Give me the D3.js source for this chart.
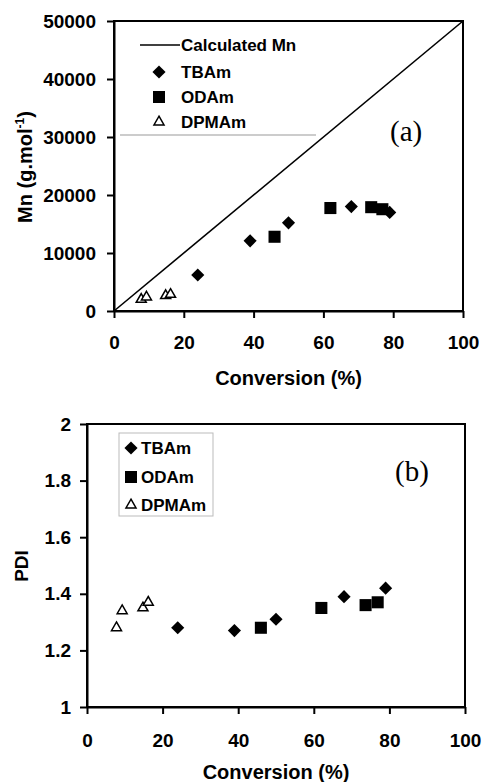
<!DOCTYPE html>
<html>
<head>
<meta charset="utf-8">
<script src="https://cdn.jsdelivr.net/npm/d3@7"></script>
<style>
  body { margin: 0; background: #fff; }
  svg { display: block; }
  text { font-family: "Liberation Sans", Arial, sans-serif; font-weight: bold; fill: #000; }
  text.panel-tag { font-family: "Liberation Serif", "Times New Roman", serif; font-weight: normal; }
</style>
</head>
<body>
<div id="chart"></div>
<script>
// conversion (%) and values
const tbamConv = [24, 39, 50, 68, 79];
const tbamMn = [6200, 12100, 15200, 18000, 17000];
const tbamPdi = [1.28, 1.27, 1.31, 1.39, 1.42];

const odamConv = [46, 62, 73.7, 76.9];
const odamMn = [12800, 17750, 17900, 17550];
const odamPdi = [1.28, 1.35, 1.36, 1.37];

const dpmamConv = [7.8, 9.3, 14.8, 16.2];
const dpmamMn = [2000, 2400, 2650, 2850];
const dpmamPdi = [1.28, 1.34, 1.35, 1.37];

const calcConv = [0, 100];
const calcMn = [0, 50000];

const xTicks = [0, 20, 40, 60, 80, 100];
const mnTicks = [0, 10000, 20000, 30000, 40000, 50000];
const pdiTicks = [1, 1.2, 1.4, 1.6, 1.8, 2];

const width = 484;
const height = 782;

const svg = d3.select('#chart')
  .append('svg')
  .attr('width', width)
  .attr('height', height);

const diamond = d3.symbol().type(d3.symbolDiamond2).size(110);
const square = d3.symbol().type(d3.symbolSquare2).size(185);
const triangle = d3.symbol().type(d3.symbolTriangle2).size(72);

function drawMarker(g, kind, x, y) {
  if (kind === 'tri') {
    g.append('path')
      .attr('d', triangle())
      .attr('transform', `translate(${x},${y})`)
      .attr('fill', '#fff')
      .attr('stroke', '#000')
      .attr('stroke-width', 1.5);
  } else {
    g.append('path')
      .attr('d', kind === 'dia' ? diamond() : square())
      .attr('transform', `translate(${x},${y})`)
      .attr('fill', '#000');
  }
}

function panel(opt) {
  const x_scale = d3.scaleLinear().domain([0, 100]).range([opt.left, opt.right]);
  const y_scale = d3.scaleLinear().domain(opt.yDomain).range([opt.bottom, opt.top]);

  const g = svg.append('g');

  // frame
  g.append('rect')
    .attr('x', opt.left)
    .attr('y', opt.top)
    .attr('width', opt.right - opt.left)
    .attr('height', opt.bottom - opt.top)
    .attr('fill', 'none')
    .attr('stroke', '#000')
    .attr('stroke-width', 2);

  const xAxis = g.append('g')
    .attr('transform', `translate(0,${opt.bottom})`)
    .call(d3.axisBottom(x_scale).tickValues(xTicks).tickSize(7).tickSizeOuter(0).tickPadding(opt.xPad));
  const yAxis = g.append('g')
    .attr('transform', `translate(${opt.left},0)`)
    .call(d3.axisLeft(y_scale).tickValues(opt.yTicks).tickSize(7).tickSizeOuter(0).tickPadding(opt.yPad)
      .tickFormat(d3.format('')));

  [xAxis, yAxis].forEach((a) => {
    a.select('.domain').attr('stroke-width', 2);
    a.selectAll('.tick line').attr('stroke-width', 2);
    a.selectAll('text')
      .attr('font-size', 19)
      .attr('font-family', '"Liberation Sans", Arial, sans-serif')
      .attr('font-weight', 'bold')
      .attr('fill', '#000');
  });

  g.append('text')
    .attr('x', (opt.left + opt.right) / 2)
    .attr('y', opt.xTitleY)
    .attr('text-anchor', 'middle')
    .attr('font-size', 20)
    .text('Conversion (%)');

  const series = [
    { kind: 'dia', xs: tbamConv, ys: opt.tbam },
    { kind: 'sq', xs: odamConv, ys: opt.odam },
    { kind: 'tri', xs: dpmamConv, ys: opt.dpmam },
  ];
  series.forEach((s) => {
    s.xs.forEach((v, i) => drawMarker(g, s.kind, x_scale(v), y_scale(s.ys[i])));
  });

  return { g, x_scale, y_scale };
}

// (a) Mn vs conversion
const a = panel({
  left: 114, right: 463, top: 21, bottom: 311,
  yDomain: [0, 50000], yTicks: mnTicks,
  xPad: 18, yPad: 11, xTitleY: 385,
  tbam: tbamMn, odam: odamMn, dpmam: dpmamMn,
});

a.g.append('path')
  .datum(calcConv.map((c, i) => [c, calcMn[i]]))
  .attr('d', d3.line().x((d) => a.x_scale(d[0])).y((d) => a.y_scale(d[1])))
  .attr('fill', 'none')
  .attr('stroke', '#000')
  .attr('stroke-width', 1.6);

a.g.append('line')
  .attr('x1', 120).attr('x2', 316).attr('y1', 135).attr('y2', 135)
  .attr('stroke', '#999').attr('stroke-width', 1);

a.g.append('line')
  .attr('x1', 140).attr('x2', 180).attr('y1', 45).attr('y2', 45)
  .attr('stroke', '#000').attr('stroke-width', 1.6);
const legA = [['line', 'Calculated Mn', 45], ['dia', 'TBAm', 72], ['sq', 'ODAm', 97], ['tri', 'DPMAm', 122]];
legA.forEach(([k, label, y]) => {
  if (k !== 'line') drawMarker(a.g, k, 159, y);
  a.g.append('text')
    .attr('x', 181).attr('y', y).attr('dy', '0.36em')
    .attr('font-size', 17)
    .text(label);
});

a.g.append('text')
  .attr('class', 'panel-tag')
  .attr('x', 390).attr('y', 131).attr('dy', '0.35em')
  .attr('font-size', 29)
  .text('(a)');

const yTitleA = a.g.append('text')
  .attr('transform', 'translate(32,167) rotate(-90)')
  .attr('text-anchor', 'middle')
  .attr('font-size', 20);
yTitleA.append('tspan').text('Mn (g.mol');
yTitleA.append('tspan').attr('font-size', 12).attr('dy', -8).text('-1');
yTitleA.append('tspan').attr('dy', 8).text(')');

// (b) PDI vs conversion
const b = panel({
  left: 87, right: 465, top: 424, bottom: 707,
  yDomain: [1, 2], yTicks: pdiTicks,
  xPad: 20, yPad: 9, xTitleY: 779,
  tbam: tbamPdi, odam: odamPdi, dpmam: dpmamPdi,
});

b.g.append('rect')
  .attr('x', 119).attr('y', 433).attr('width', 94).attr('height', 83)
  .attr('fill', 'none').attr('stroke', '#bbb').attr('stroke-width', 1);

const legB = [['dia', 'TBAm', 448], ['sq', 'ODAm', 477], ['tri', 'DPMAm', 505]];
legB.forEach(([k, label, y]) => {
  drawMarker(b.g, k, 131, y);
  b.g.append('text')
    .attr('x', 141).attr('y', y).attr('dy', '0.36em')
    .attr('font-size', 17)
    .text(label);
});

b.g.append('text')
  .attr('class', 'panel-tag')
  .attr('x', 395).attr('y', 471).attr('dy', '0.35em')
  .attr('font-size', 29)
  .text('(b)');

b.g.append('text')
  .attr('transform', 'translate(28,566) rotate(-90)')
  .attr('text-anchor', 'middle')
  .attr('font-size', 19)
  .text('PDI');
</script>
</body>
</html>
